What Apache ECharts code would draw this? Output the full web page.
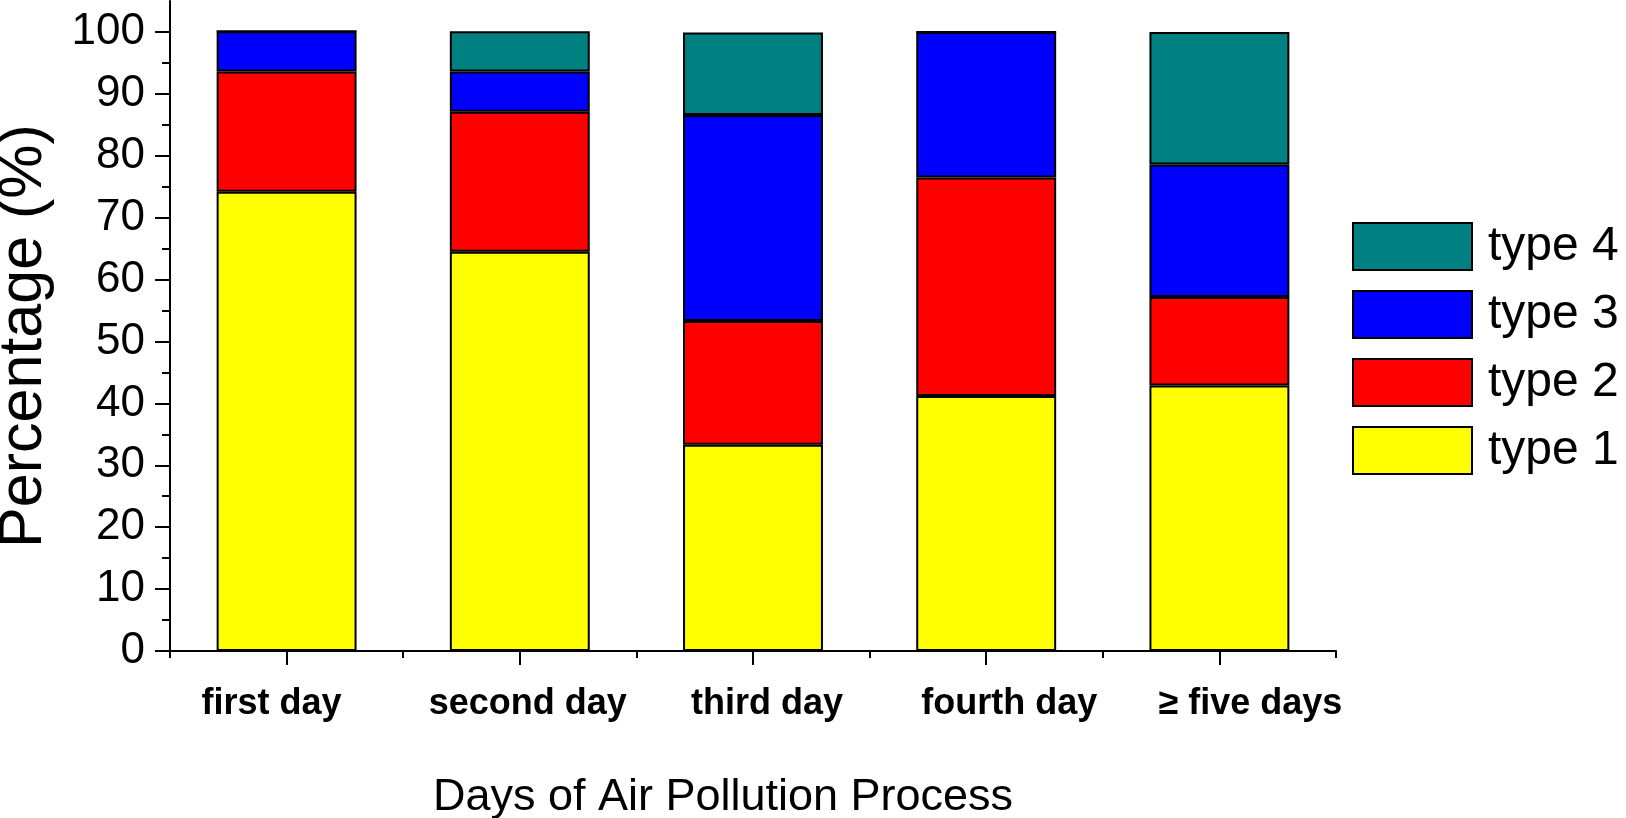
<!DOCTYPE html>
<html>
<head>
<meta charset="utf-8">
<title>Days of Air Pollution Process</title>
<script src="https://cdn.jsdelivr.net/npm/echarts@6/dist/echarts.min.js"></script>
<style>
  html, body { margin: 0; padding: 0; background: #fff; }
  #chart { width: 1626px; height: 818px; }
</style>
</head>
<body>
<div id="chart"></div>
<script>
// 数据
const days = ['first day', 'second day', 'third day', 'fourth day', '≥ five days']
const type1 = [74.2, 64.5, 33.3, 41.2, 42.9]
const type2 = [19.4, 22.6, 20.0, 35.3, 14.3]
const type3 = [6.5, 6.5, 33.3, 23.5, 21.4]
const type4 = [0, 6.5, 13.3, 0, 21.4]
const majorTicks = [0, 10, 20, 30, 40, 50, 60, 70, 80, 90, 100]
const minorTicks = [5, 15, 25, 35, 45, 55, 65, 75, 85, 95]

const font = 'Liberation Sans, Arial, sans-serif'

// 原图中类别标签相对刻度的水平偏移 (px)
const labelShift = [-15, 8, 14, 23, 31]

const chart = echarts.init(document.getElementById('chart'))

const barSeries = (name, data, color) => ({
  name,
  type: 'bar',
  stack: 'total',
  barWidth: '60%',
  data,
  itemStyle: { color, borderColor: '#000', borderWidth: 2 },
  emphasis: { disabled: true }
})

const dayLabels = days.map((d, i) => {
  const s = labelShift[i]
  return {
    value: d,
    textStyle: { padding: s > 0 ? [0, 0, 0, 2 * s] : [0, -2 * s, 0, 0] }
  }
})

chart.setOption({
  animation: false,
  grid: { left: 170, right: 290, top: 1, bottom: 167, outerBoundsMode: 'none', containLabel: false },
  legend: {
    orient: 'vertical',
    left: 1352,
    top: 222,
    padding: 0,
    itemWidth: 119,
    itemHeight: 47,
    itemGap: 19,
    icon: 'rect',
    data: ['type 4', 'type 3', 'type 2', 'type 1'],
    textStyle: { fontFamily: font, fontSize: 48, color: '#000', padding: [0, 0, 0, 11] }
  },
  xAxis: [
    {
      type: 'category',
      data: dayLabels,
      name: 'Days of Air Pollution Process',
      nameLocation: 'middle',
      nameGap: 124,
      nameTextStyle: { fontFamily: font, fontSize: 45, color: '#000', padding: [0, 60, 0, 0] },
      axisLine: { lineStyle: { color: '#000', width: 2 } },
      axisTick: { show: true, alignWithLabel: true, interval: 0, length: 14, lineStyle: { color: '#000', width: 2 } },
      axisLabel: { interval: 0, margin: 35, fontFamily: font, fontSize: 36, fontWeight: 'bold', color: '#000' }
    },
    {
      // 类别边界上的短刻度
      type: 'category',
      data: days,
      position: 'bottom',
      axisLine: { show: false },
      axisTick: { show: true, interval: 0, length: 7, lineStyle: { color: '#000', width: 2 } },
      axisLabel: { show: false }
    }
  ],
  yAxis: [
    {
      type: 'value',
      min: 0,
      max: 105,
      interval: 10,
      name: 'Percentage (%)',
      nameLocation: 'middle',
      nameGap: 115,
      nameTextStyle: { fontFamily: font, fontSize: 61, color: '#000', padding: [0, 20, 0, 0] },
      splitLine: { show: false },
      axisLine: { show: true, lineStyle: { color: '#000', width: 2 } },
      axisTick: { show: true, length: 15, customValues: majorTicks, lineStyle: { color: '#000', width: 2 } },
      axisLabel: { margin: 25, customValues: majorTicks, fontFamily: font, fontSize: 44, color: '#000' }
    },
    {
      // 次刻度
      type: 'value',
      position: 'left',
      min: 0,
      max: 105,
      interval: 10,
      splitLine: { show: false },
      axisLine: { show: false },
      axisTick: { show: true, length: 8, customValues: minorTicks, lineStyle: { color: '#000', width: 2 } },
      axisLabel: { show: false }
    }
  ],
  series: [
    barSeries('type 1', type1, '#ffff00'),
    barSeries('type 2', type2, '#ff0000'),
    barSeries('type 3', type3, '#0000ff'),
    barSeries('type 4', type4, '#008080')
  ]
})
</script>
</body>
</html>
